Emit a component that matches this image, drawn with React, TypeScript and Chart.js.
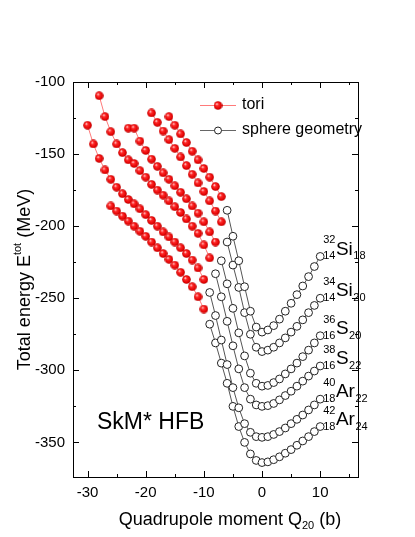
import React, { useEffect, useRef } from 'react';
import { Chart, registerables } from 'chart.js';

Chart.register(...registerables);

// ---------- data ----------
const massNumbers = [32, 34, 36, 38, 40, 42];
const protonNumbers = [14, 14, 16, 16, 18, 18];
const neutronNumbers = [18, 20, 20, 22, 22, 24];
const elementSymbols = ['Si', 'Si', 'S', 'S', 'Ar', 'Ar'];

// tori branches (Q20 in b, total energy in MeV)
const toriSi32Q = [-16, -15, -14, -13, -12, -11, -10, -9, -8, -7];
const toriSi32E = [-124, -130, -136, -142, -148, -154, -160, -166, -172.5, -179.5];

const toriSi34Q = [-19, -18, -17, -16, -15, -14, -13, -12, -11, -10, -9, -8, -7];
const toriSi34E = [-121.5, -128, -134, -140, -146, -152, -158, -164, -170, -176, -182.5, -189.5, -197];

const toriS36Q = [-23, -22, -21, -20, -19, -18, -17, -16, -15, -14, -13, -12, -11, -10, -9, -8];
const toriS36E = [-132, -132, -141, -147.5, -153.5, -158.5, -163, -167.5, -172, -176.5, -181, -186, -191, -197, -204, -211];

const toriS38Q = [-28, -27, -26, -25, -24, -23, -22, -21, -20, -19, -18, -17, -16, -15, -14, -13, -12, -11, -10, -9];
const toriS38E = [-109.5, -124, -134.5, -143, -149, -154, -156.5, -161.5, -166, -171, -175, -178.5, -182.5, -186.5, -190.5, -195, -200, -205, -213, -222];

const toriAr40Q = [-30, -29, -28, -27, -26, -25, -24, -23, -22, -21, -20, -19, -18, -17, -16, -15, -14, -13, -12, -11, -10];
const toriAr40E = [-130, -143, -153, -161, -167.5, -173, -177.5, -181.5, -184.5, -188, -192, -196, -200, -204, -207.5, -211, -215, -219, -223.5, -229, -237];

const toriAr42Q = [-26, -25, -24, -23, -22, -21, -20, -19, -18, -17, -16, -15, -14, -13, -12, -11, -10];
const toriAr42E = [-186, -189.5, -193, -196.5, -200, -203.5, -207, -211, -215, -219, -223, -227, -232, -237, -242, -249, -257.5];

// sphere geometry branches
const sphereSi32Q = [-6, -5, -4, -3, -2, -1, 0, 1, 2, 3, 4, 5, 6, 7, 8, 9, 10];
const sphereSi32E = [-189, -207, -224, -242, -259, -270, -273.5, -272, -269, -264.5, -259, -253.5, -247.5, -241.5, -235, -228, -221];

const sphereSi34Q = [-6, -5, -4, -3, -2, -1, 0, 1, 2, 3, 4, 5, 6, 7, 8, 9, 10];
const sphereSi34E = [-211, -227, -242.5, -260, -275, -284, -287, -286, -284, -281, -277.5, -273.5, -269.5, -265, -260, -255, -250];

const sphereS36Q = [-7, -6, -5, -4, -3, -2, -1, 0, 1, 2, 3, 4, 5, 6, 7, 8, 9, 10];
const sphereS36E = [-224, -240, -257, -274, -290, -302, -309, -311, -310.5, -308.5, -306, -302.5, -299, -295, -290.5, -286, -281, -276];

const sphereS38Q = [-8, -7, -6, -5, -4, -3, -2, -1, 0, 1, 2, 3, 4, 5, 6, 7, 8, 9, 10];
const sphereS38E = [-233, -249, -266, -283, -299, -312, -320, -324, -325, -324.5, -323, -320.5, -317.5, -314.5, -311, -307.5, -304, -300.5, -297];

const sphereAr40Q = [-9, -8, -7, -6, -5, -4, -3, -2, -1, 0, 1, 2, 3, 4, 5, 6, 7, 8, 9, 10];
const sphereAr40E = [-246, -262, -279, -296, -312, -326, -337, -343, -346, -346.5, -346, -344.5, -342.5, -340, -337, -334, -331, -327.5, -324, -320];

const sphereAr42Q = [-9, -8, -7, -6, -5, -4, -3, -2, -1, 0, 1, 2, 3, 4, 5, 6, 7, 8, 9, 10];
const sphereAr42E = [-268, -281, -295, -309, -325, -339, -350, -358, -362.5, -364, -363.5, -362, -360, -357.5, -355, -352, -349, -346, -342.5, -339];

const xTickValues = [-30, -20, -10, 0, 10];
const xMinorTickValues = [-25, -15, -5, 5, 15];
const yTickValues = [-350, -300, -250, -200, -150, -100];
const yMinorTickValues = [-375, -325, -275, -225, -175, -125];

// ---------- helpers ----------
const FONT = "'Liberation Sans', Arial, Helvetica, sans-serif";

const toriSets = [
  [toriSi32Q, toriSi32E],
  [toriSi34Q, toriSi34E],
  [toriS36Q, toriS36E],
  [toriS38Q, toriS38E],
  [toriAr40Q, toriAr40E],
  [toriAr42Q, toriAr42E],
];
const sphereSets = [
  [sphereSi32Q, sphereSi32E],
  [sphereSi34Q, sphereSi34E],
  [sphereS36Q, sphereS36E],
  [sphereS38Q, sphereS38E],
  [sphereAr40Q, sphereAr40E],
  [sphereAr42Q, sphereAr42E],
];

function toPoints(q: number[], e: number[]) {
  return q.map((v, i) => ({ x: v, y: e[i] }));
}

function makeBall(d: number): HTMLCanvasElement {
  const c = document.createElement('canvas');
  c.width = d;
  c.height = d;
  const g = c.getContext('2d')!;
  const r = d / 2;
  const grad = g.createRadialGradient(r * 0.7, r * 0.65, 0.2, r, r, r);
  grad.addColorStop(0, '#ffe0e0');
  grad.addColorStop(0.3, '#ff2a2a');
  grad.addColorStop(0.8, '#e00000');
  grad.addColorStop(1, '#a80000');
  g.fillStyle = grad;
  g.beginPath();
  g.arc(r, r, r - 0.2, 0, Math.PI * 2);
  g.fill();
  return c;
}

let ballImage: HTMLCanvasElement | null = null;
function getBall() {
  if (!ballImage) ballImage = makeBall(9);
  return ballImage;
}

type Part = { t: string; size: number; dy: number };

function drawParts(ctx: CanvasRenderingContext2D, parts: Part[], x: number, y: number, align: 'left' | 'center') {
  let w = 0;
  for (const p of parts) {
    ctx.font = `${p.size}px ${FONT}`;
    w += ctx.measureText(p.t).width;
  }
  let cx = align === 'center' ? x - w / 2 : x;
  ctx.textAlign = 'left';
  ctx.textBaseline = 'middle';
  for (const p of parts) {
    ctx.font = `${p.size}px ${FONT}`;
    ctx.fillText(p.t, cx, y + p.dy);
    cx += ctx.measureText(p.t).width;
  }
}

const decorPlugin = {
  id: 'decor',
  afterDraw(chart: any) {
    const ctx: CanvasRenderingContext2D = chart.ctx;
    const { left, right, top, bottom } = chart.chartArea;
    const xs = chart.scales.x;
    const ys = chart.scales.y;
    ctx.save();
    ctx.strokeStyle = '#000';
    ctx.lineWidth = 1;
    // frame
    ctx.strokeRect(Math.round(left) + 0.5, Math.round(top) + 0.5, Math.round(right - left), Math.round(bottom - top));
    // inward ticks
    const tick = (vals: number[], len: number) => {
      ctx.beginPath();
      for (const v of vals) {
        const px = Math.round(xs.getPixelForValue(v)) + 0.5;
        ctx.moveTo(px, bottom);
        ctx.lineTo(px, bottom - len);
        ctx.moveTo(px, top);
        ctx.lineTo(px, top + len);
      }
      ctx.stroke();
    };
    const ytick = (vals: number[], len: number) => {
      ctx.beginPath();
      for (const v of vals) {
        const py = Math.round(ys.getPixelForValue(v)) + 0.5;
        ctx.moveTo(left, py);
        ctx.lineTo(left + len, py);
        ctx.moveTo(right, py);
        ctx.lineTo(right - len, py);
      }
      ctx.stroke();
    };
    tick(xTickValues, 6);
    tick(xMinorTickValues, 3);
    ytick(yTickValues.filter((v) => v > -374 && v < -100), 6);
    ytick(yMinorTickValues.filter((v) => v > -374 && v < -100), 3);

    ctx.fillStyle = '#000';
    // axis titles
    drawParts(
      ctx,
      [
        { t: 'Quadrupole moment Q', size: 18, dy: 0 },
        { t: '20', size: 11, dy: 6 },
        { t: ' (b)', size: 18, dy: 0 },
      ],
      230,
      520,
      'center'
    );
    ctx.save();
    ctx.translate(25, (top + bottom) / 2);
    ctx.rotate(-Math.PI / 2);
    drawParts(
      ctx,
      [
        { t: 'Total energy E', size: 18, dy: 0 },
        { t: 'tot', size: 11, dy: -7 },
        { t: ' (MeV)', size: 18, dy: 0 },
      ],
      0,
      0,
      'center'
    );
    ctx.restore();

    // model label
    drawParts(ctx, [{ t: 'SkM* HFB', size: 23, dy: 0 }], 97, 423, 'left');

    // legend
    const ball = getBall();
    const ly1 = 105.5;
    const ly2 = 130.5;
    ctx.lineWidth = 1;
    ctx.strokeStyle = '#ff7a7a';
    ctx.beginPath();
    ctx.moveTo(200, ly1);
    ctx.lineTo(236, ly1);
    ctx.stroke();
    ctx.drawImage(ball, 218 - ball.width / 2, ly1 - ball.height / 2);
    ctx.strokeStyle = '#666';
    ctx.beginPath();
    ctx.moveTo(200, ly2);
    ctx.lineTo(236, ly2);
    ctx.stroke();
    ctx.fillStyle = '#fff';
    ctx.strokeStyle = '#222';
    ctx.beginPath();
    ctx.arc(218, ly2, 3.5, 0, Math.PI * 2);
    ctx.fill();
    ctx.stroke();
    ctx.fillStyle = '#000';
    drawParts(ctx, [{ t: 'tori', size: 16, dy: 0 }], 242, ly1 - 0.5, 'left');
    drawParts(ctx, [{ t: 'sphere geometry', size: 16, dy: 0 }], 242, ly2 - 0.5, 'left');

    // nucleus labels at the right end of each sphere curve
    for (let i = 0; i < massNumbers.length; i++) {
      const [q, e] = sphereSets[i];
      const endQ = q[q.length - 1];
      const endE = e[e.length - 1];
      const x0 = xs.getPixelForValue(endQ) + 3;
      const yc = ys.getPixelForValue(endE) - 8;
      ctx.font = `11px ${FONT}`;
      ctx.textAlign = 'left';
      ctx.textBaseline = 'middle';
      const wA = ctx.measureText(String(massNumbers[i])).width;
      const wZ = ctx.measureText(String(protonNumbers[i])).width;
      ctx.fillText(String(massNumbers[i]), x0, yc - 8);
      ctx.fillText(String(protonNumbers[i]), x0, yc + 8);
      const xe = x0 + Math.max(wA, wZ) + 0.5;
      ctx.font = `19px ${FONT}`;
      ctx.fillText(elementSymbols[i], xe, yc + 1);
      const ws = ctx.measureText(elementSymbols[i]).width;
      ctx.font = `11px ${FONT}`;
      ctx.fillText(String(neutronNumbers[i]), xe + ws + 0.5, yc + 8);
    }
    ctx.restore();
  },
};

export default function App() {
  const ref = useRef<HTMLCanvasElement>(null);
  useEffect(() => {
    if (!ref.current) return;
    const ball = getBall();
    const datasets: any[] = [];
    sphereSets.forEach(([q, e]) => {
      datasets.push({
        data: toPoints(q, e),
        showLine: true,
        borderColor: '#555',
        borderWidth: 1,
        pointStyle: 'circle',
        pointRadius: 3.9,
        pointBorderWidth: 1,
        pointBorderColor: '#222',
        pointBackgroundColor: '#fff',
      });
    });
    toriSets.forEach(([q, e]) => {
      datasets.push({
        data: toPoints(q, e),
        showLine: true,
        borderColor: '#ff7a7a',
        borderWidth: 1,
        pointStyle: ball,
        pointRadius: 4.5,
      });
    });
    const chart: any = new Chart(ref.current, {
      type: 'scatter',
      data: { datasets },
      options: {
        animation: false,
        responsive: false,
        devicePixelRatio: 1,
        layout: { padding: { left: 0, top: 82, right: 57, bottom: 0 } },
        plugins: { legend: { display: false }, tooltip: { enabled: false } },
        scales: {
          x: {
            type: 'linear',
            min: -32.5,
            max: 16.5,
            afterBuildTicks: (s: any) => {
              s.ticks = xTickValues.map((v) => ({ value: v }));
            },
            afterFit: (s: any) => {
              s.height = 60;
            },
            ticks: {
              font: { family: FONT, size: 15 },
              color: '#000',
              padding: 7,
              maxRotation: 0,
              callback: (v: any) => String(v),
            },
            grid: { display: false, drawTicks: false },
            border: { display: false },
          },
          y: {
            type: 'linear',
            min: -374,
            max: -100,
            afterBuildTicks: (s: any) => {
              s.ticks = yTickValues.map((v) => ({ value: v }));
            },
            afterFit: (s: any) => {
              s.width = 73;
            },
            ticks: {
              font: { family: FONT, size: 15 },
              color: '#000',
              padding: 8,
              callback: (v: any) => String(v),
            },
            grid: { display: false, drawTicks: false },
            border: { display: false },
          },
        },
      },
      plugins: [decorPlugin],
    });
    return () => chart.destroy();
  }, []);
  return (
    <div style={{ position: 'absolute', left: 0, top: 0, width: 415, height: 537, background: '#fff' }}>
      <canvas ref={ref} width={415} height={537} style={{ width: 415, height: 537, display: 'block' }} />
    </div>
  );
}
